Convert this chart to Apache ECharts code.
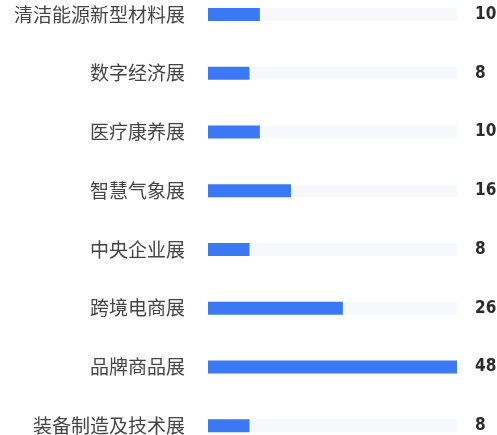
<!DOCTYPE html>
<html><head><meta charset="utf-8">
<script src="https://cdn.jsdelivr.net/npm/echarts@6/dist/echarts.min.js"></script>
<style>html,body{margin:0;padding:0;background:#fff}#c{width:497px;height:435px}</style>
</head><body><div id="c"></div>
<script>
const categories = ['清洁能源新型材料展','数字经济展','医疗康养展','智慧气象展','中央企业展','跨境电商展','品牌商品展','装备制造及技术展'];
const values = [10, 8, 10, 16, 8, 26, 48, 8];
const valueLabels = values.map(String);

const chart = echarts.init(document.getElementById('c'), null, {renderer: 'canvas'});
chart.setOption({
  animation: false,
  grid: {left: 208, right: 40, top: -15, bottom: -20, containLabel: false, outerBoundsMode: 'none'},
  xAxis: {type: 'value', min: 0, max: 48, show: false},
  yAxis: [
    {type: 'category', data: categories, inverse: true,
     axisLine: {show: false}, axisTick: {show: false}, splitLine: {show: false},
     axisLabel: {margin: 23, color: '#454545', fontSize: 19, fontFamily: 'Noto Sans CJK SC'}},
    {type: 'category', data: valueLabels, inverse: true, position: 'right',
     axisLine: {show: false}, axisTick: {show: false}, splitLine: {show: false},
     axisLabel: {margin: 18, align: 'left', color: '#2b2b2b', fontSize: 17, fontWeight: 'bold', fontFamily: '"DejaVu Sans Condensed", Roboto, sans-serif'}}
  ],
  series: [{
    type: 'bar', data: values, barWidth: 13,
    itemStyle: {color: '#3b79f4'},
    showBackground: true,
    backgroundStyle: {color: '#f6f8fc'}
  }]
});
</script></body></html>
